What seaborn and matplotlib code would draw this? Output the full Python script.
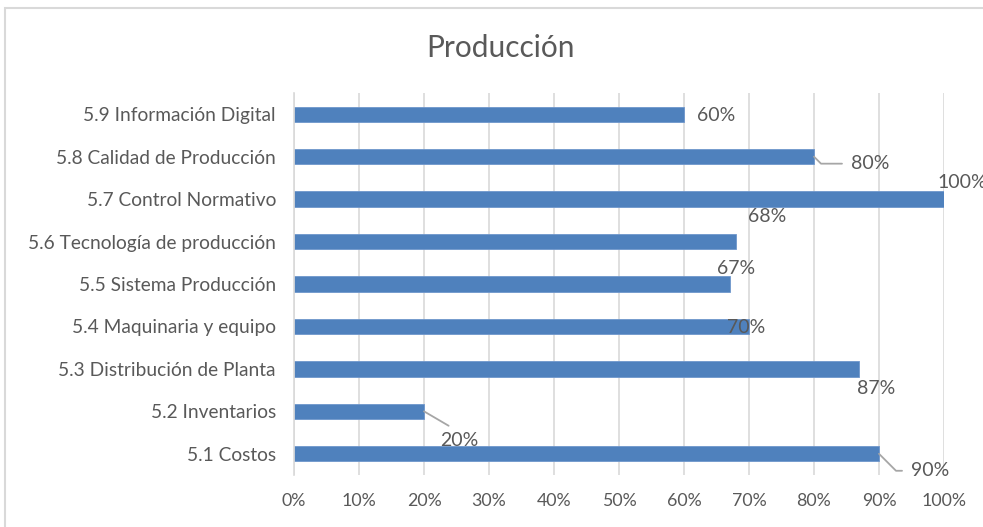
import matplotlib
matplotlib.use("Agg")
import matplotlib.pyplot as plt
import seaborn as sns
import pandas as pd
from matplotlib.patches import Rectangle
from matplotlib.ticker import PercentFormatter

categories = [
    "5.9 Información Digital",
    "5.8 Calidad de Producción",
    "5.7 Control Normativo",
    "5.6 Tecnología de producción",
    "5.5 Sistema Producción",
    "5.4 Maquinaria y equipo",
    "5.3 Distribución de Planta",
    "5.2 Inventarios",
    "5.1 Costos",
]
values = [60, 80, 100, 68, 67, 70, 87, 20, 90]
labels = ["60%", "80%", "100%", "68%", "67%", "70%", "87%", "20%", "90%"]
title = "Producción"

# label offsets (pixels, x right / y up) from the bar end, and leader flag
label_offsets = [(32, -1), (56, -7), (18, 17), (31, 25), (7, 16), (-3, -1), (17, -20), (35, -29), (51, -17)]
leader = [False, True, False, False, False, False, False, True, True]

df = pd.DataFrame({"cat": categories, "val": values})

sns.set_theme(style="white")
plt.rcParams["font.family"] = ["Lato", "DejaVu Sans"]
TXT = "#595959"

fig = plt.figure(figsize=(9.83, 5.27), dpi=100)
fig.patches.append(Rectangle((5 / 983, -0.05), 1.1, 1 - 8 / 527 + 0.05, transform=fig.transFigure,
                             fill=False, edgecolor="#d9d9d9", linewidth=1.5))
ax = fig.add_axes([294 / 983, 1 - 475 / 527, 650 / 983, (475 - 93) / 527])

sns.barplot(data=df, x="val", y="cat", order=categories, color="#4f81bd", saturation=1,
            width=0.36, edgecolor="#6f97cc", linewidth=0.6, ax=ax)

ax.set_xlim(0, 100)
ax.set_xticks(range(0, 101, 10))
ax.xaxis.set_major_formatter(PercentFormatter(decimals=0))
ax.set_xlabel("")
ax.set_ylabel("")
ax.grid(axis="x", color="#d9d9d9", linewidth=1.2)
ax.set_axisbelow(True)
for s in ["top", "right", "bottom"]:
    ax.spines[s].set_visible(False)
ax.spines["left"].set_color("#d9d9d9")
ax.spines["left"].set_linewidth(1.2)
ax.tick_params(axis="both", length=0, labelcolor=TXT)
ax.tick_params(axis="y", pad=13, labelsize=13.8)
ax.tick_params(axis="x", pad=13, labelsize=12.8)

for i, (v, lab, off, ld) in enumerate(zip(values, labels, label_offsets, leader)):
    if ld:
        ax.annotate(lab, xy=(v, i), xytext=off, textcoords="offset pixels",
                    ha="center", va="center", fontsize=14, color=TXT,
                    annotation_clip=False,
                    arrowprops=dict(arrowstyle="-", color="#a6a6a6", lw=1.3,
                                    shrinkA=4, shrinkB=0,
                                    relpos=(0, 0.5) if off[0] > 45 else (0.5, 1),
                                    connectionstyle="angle,angleA=0,angleB=-45,rad=0" if off[0] > 45 else "arc3"))
    else:
        ax.annotate(lab, xy=(v, i), xytext=off, textcoords="offset pixels",
                    ha="center", va="center", fontsize=14, color=TXT, annotation_clip=False)

fig.text(0.509, 1 - 48 / 527, title, ha="center", va="center", fontsize=21.5, color=TXT)

fig.savefig("out.png", dpi=100)
